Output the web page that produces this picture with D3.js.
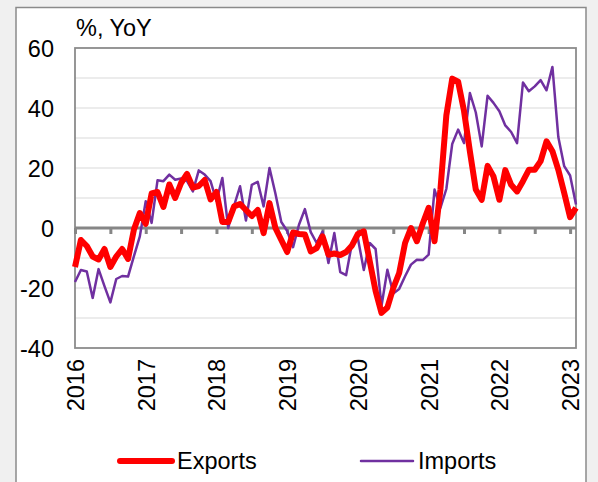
<!DOCTYPE html>
<html><head><meta charset="utf-8">
<script src="https://cdn.jsdelivr.net/npm/d3@7"></script>
<style>html,body{margin:0;padding:0;background:#f0f0f0;}svg{display:block;font-family:"Liberation Sans",Arial,sans-serif;}</style>
</head><body><svg id="c" width="598" height="482"></svg>
<script>
// ---- data ----
const years = [2016, 2017, 2018, 2019, 2020, 2021, 2022, 2023];
const months = [];
years.forEach(y => { for (let m = 1; m <= 12; m++) { if (y === 2023 && m > 2) break; months.push(y + "-" + String(m).padStart(2, "0")); } });
const exportsYoY = [
 -13, -4, -6, -9.5, -10.5, -7, -13, -9.5, -7, -10.3, -0.5, 5,
 1.4, 11.5, 12, 7, 14.5, 10, 15, 18, 13.5, 14, 16, 9.5,
 12, 2, 2, 7.2, 8, 6, 4, 6, -1.7, 8.3, 0, -4,
 -8, -1.5, -2, -2.2, -7.8, -6.7, -2.8, -8.9, -8.5, -9, -8, -5.8,
 -2, -1.1, -11, -21, -28.3, -26.5, -20, -15, -5, 0, -4.4, 1.5,
 6.7, -4.4, 12.8, 37.5, 49.8, 48.8, 39, 25.5, 12.8, 9.4, 20.7, 17.2,
 9.4, 19.3, 14.4, 12.2, 15.6, 19.4, 19.4, 22.3, 28.9, 25.6, 19.4, 11.7,
 3.6, 6.7
];
const importsYoY = [
 -18, -14, -14.5, -23.3, -13.7, -19.4, -24.8, -17, -16, -16.2, -9.4, -2.8,
 8.9, 1.7, 15.9, 15.6, 17.8, 16.1, 16.5, 15.6, 12.2, 19.2, 17.8, 15.6,
 9, 16.7, 0, 7.5, 13.9, 2.5, 14.4, 15.4, 7.2, 20, 11.5, 2,
 -1, -6.4, 1.1, 6.3, -1.4, -5, -1.2, -11.7, -1.7, -14.7, -15.7, -5,
 -3.5, -14, -5, -7, -26, -13.9, -21.8, -20.3, -16.1, -12.2, -10.6, -10.7,
 -8.9, 12.8, 6.7, 13, 28, 32.8, 28.3, 45, 38.5, 27.2, 44.1, 41.7,
 38.9, 34.2, 32, 28.3, 48.5, 45.6, 47.2, 49.3, 45.9, 53.7, 30.3, 20.6,
 17.5, 7.8
];
const yTicks = [-40, -20, 0, 20, 40, 60];
const gridValues = [-30, -20, -10, 10, 20, 30, 40, 50];
const seriesNames = ["Exports", "Imports"];
const unitLabel = "%, YoY";

// ---- layout ----
const svg = d3.select("#c");
const L = 75, R = 576, T = 48, B = 348;
const x = d3.scalePoint().domain(months).range([L, R]).padding(0);
const y = d3.scaleLinear().domain([-40, 60]).range([B, T]);
const FS = 23.5;

svg.append("rect").attr("x", 0).attr("y", 0).attr("width", 598).attr("height", 482).attr("fill", "#f0f0f0");
svg.append("rect").attr("x", 16).attr("y", 7.5).attr("width", 570).attr("height", 490)
  .attr("fill", "#fff").attr("stroke", "#8a8a8a").attr("stroke-width", 1.5);

// gridlines
svg.append("g").selectAll("line").data(gridValues).join("line")
  .attr("x1", L).attr("x2", R).attr("y1", d => y(d)).attr("y2", d => y(d))
  .attr("stroke", "#d9d9d9").attr("stroke-width", 1);

// plot border
svg.append("rect").attr("x", L).attr("y", T).attr("width", R - L).attr("height", B - T)
  .attr("fill", "none").attr("stroke", "#8c8c8c").attr("stroke-width", 1.8);

// y axis labels
const yAxis = d3.axisLeft(y).tickValues(yTicks).tickSize(0).tickPadding(0).tickFormat(d => String(d));
const gy = svg.append("g").attr("transform", `translate(${54},0)`).call(yAxis);
gy.select(".domain").remove();
gy.selectAll("text").attr("font-size", FS).attr("fill", "#000").attr("dy", "0.36em")
  .attr("font-family", "Liberation Sans, Arial, sans-serif");

// zero axis with ticks every 6 months
const halfYear = months.filter(m => m.endsWith("-01") || m.endsWith("-07"));
const xAxis0 = d3.axisBottom(x).tickValues(halfYear).tickSize(6).tickFormat("");
const g0 = svg.append("g").attr("transform", `translate(0,${y(0)})`).call(xAxis0);
g0.select(".domain").attr("stroke", "#868686").attr("stroke-width", 3).attr("d", `M${L},0H${R}`);
g0.selectAll(".tick line").attr("stroke", "#868686").attr("stroke-width", 3);

// year labels
const jan = months.filter(m => m.endsWith("-01"));
const xAxisY = d3.axisBottom(x).tickValues(jan).tickSize(0).tickFormat(d => d.slice(0, 4));
const gx = svg.append("g").attr("transform", `translate(0,${B})`).call(xAxisY);
gx.select(".domain").remove();
gx.selectAll("text").attr("font-size", FS).attr("fill", "#000")
  .attr("font-family", "Liberation Sans, Arial, sans-serif")
  .attr("text-anchor", "end").attr("transform", "rotate(-90)")
  .attr("x", -11).attr("y", 0).attr("dy", "0.36em");

// lines
const line = d3.line().x((d, i) => x(months[i])).y(d => y(d));
svg.append("path").datum(importsYoY).attr("d", line).attr("fill", "none")
  .attr("stroke", "#7030a0").attr("stroke-width", 2.5).attr("stroke-linejoin", "round");
svg.append("path").datum(exportsYoY).attr("d", line).attr("fill", "none")
  .attr("stroke", "#ff0000").attr("stroke-width", 6).attr("stroke-linejoin", "round");

// title
svg.append("text").attr("x", 76).attr("y", 36).attr("font-size", FS).attr("fill", "#000").text(unitLabel);

// legend
const leg = [
  {name: seriesNames[0], color: "#ff0000", w: 6, x1: 120, x2: 172},
  {name: seriesNames[1], color: "#7030a0", w: 2.5, x1: 361, x2: 413}
];
const lg = svg.append("g");
leg.forEach(d => {
  lg.append("line").attr("x1", d.x1).attr("x2", d.x2).attr("y1", 461).attr("y2", 461)
    .attr("stroke", d.color).attr("stroke-width", d.w).attr("stroke-linecap", "round");
  lg.append("text").attr("x", d.x2 + 5).attr("y", 469).attr("font-size", FS).attr("fill", "#000").text(d.name);
});
</script></body></html>
